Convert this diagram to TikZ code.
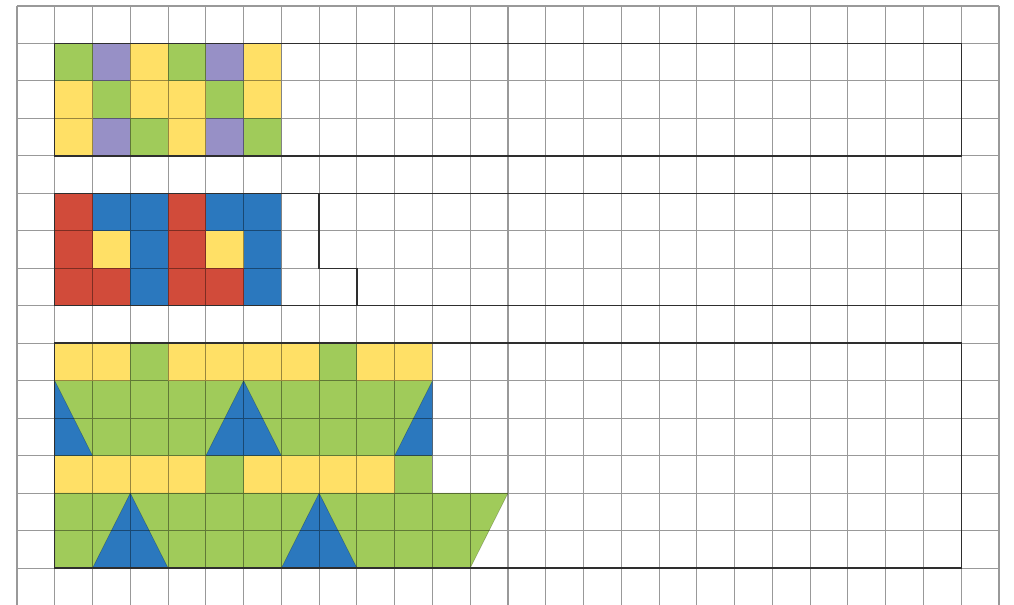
\documentclass[tikz,border=0pt]{standalone}
\definecolor{cG}{HTML}{A0CB5A}
\definecolor{cP}{HTML}{9790C6}
\definecolor{cY}{HTML}{FFE066}
\definecolor{cR}{HTML}{D14B3A}
\definecolor{cB}{HTML}{2B78BE}
\begin{document}
\begin{tikzpicture}[x=1cm,y=-0.99206cm,
  gridline/.style={draw=black!40,line width=0.8pt},
  gridover/.style={draw=black,opacity=0.4,line width=0.8pt},
  outline/.style={draw=black!82,line width=1.1pt},
  tri/.style={fill=cB},
  edge/.style={draw=black,draw opacity=0.25,line width=0.4pt}]
\useasboundingbox (-0.450,-0.160) rectangle (26.397,15.986);
% grid on white
\draw[gridline] \foreach \i in {0,...,26}{(\i,0) -- (\i,15.986)}
                \foreach \j in {0,...,15}{(0,\j) -- (26,\j)};
% region cells
\foreach \row/\cols in {1/{G,P,Y,G,P,Y},2/{Y,G,Y,Y,G,Y},3/{Y,P,G,Y,P,G},
                         5/{R,B,B,R,B,B},6/{R,Y,B,R,Y,B},7/{R,R,B,R,R,B},
                         9/{Y,Y,G,Y,Y,Y,Y,G,Y,Y},12/{Y,Y,Y,Y,G,Y,Y,Y,Y,G}}{
  \foreach \c [count=\i] in \cols {
    \fill[c\c] (\i,\row) rectangle ++(1,1);
  }
}
% region 3 green bands
\fill[cG] (1,10) rectangle (11,12);
\filldraw[fill=cG,edge] (1,13) -- (13,13) -- (12,15) -- (1,15) -- cycle;
% blue triangles
\filldraw[tri,edge] (1,10) -- (2,12) -- (1,12) -- cycle;
\filldraw[tri,edge] (6,10) -- (7,12) -- (5,12) -- cycle;
\filldraw[tri,edge] (11,10) -- (11,12) -- (10,12) -- cycle;
\filldraw[tri,edge] (3,13) -- (4,15) -- (2,15) -- cycle;
\filldraw[tri,edge] (8,13) -- (9,15) -- (7,15) -- cycle;
% grid over coloured areas
\begin{scope}
\clip (1,1) rectangle (7,4) (1,5) rectangle (7,8) (1,9) rectangle (11,13)
      (1,13) -- (13,13) -- (12,15) -- (1,15) -- cycle;
\draw[gridover] \foreach \i in {1,...,13}{(\i,0.5) -- (\i,15.5)}
                \foreach \j in {1,...,15}{(0.5,\j) -- (13.5,\j)};
\end{scope}
% outlines
\draw[outline] (1,1) rectangle (25,4);
\draw[outline] (1,5) rectangle (25,8);
\draw[outline] (8,5) -- (8,7) -- (9,7) -- (9,8);
\draw[outline] (1,9) rectangle (25,15);
\end{tikzpicture}
\end{document}
